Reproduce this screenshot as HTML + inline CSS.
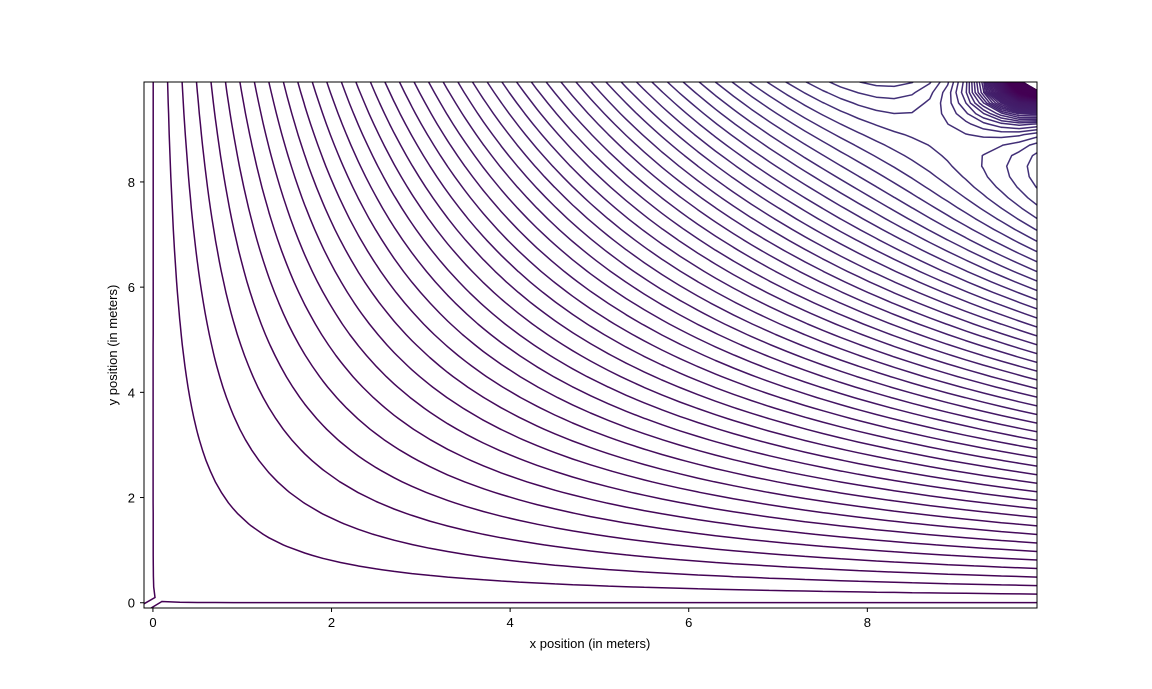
<!DOCTYPE html>
<html><head><meta charset="utf-8"><style>
html,body{margin:0;padding:0;background:#fff;}
svg text{font-family:"Liberation Sans",sans-serif;font-size:13px;fill:#000;}
</style></head><body>
<svg id="chart" width="1152" height="684" viewBox="0 0 1152 684" xmlns="http://www.w3.org/2000/svg">
<rect width="1152" height="684" fill="#fff"/>
<defs><clipPath id="clip"><rect x="144" y="82" width="893" height="526"/></clipPath></defs>
<g id="contours" clip-path="url(#clip)"></g>
<rect x="144" y="82" width="893" height="526" fill="none" stroke="#000" stroke-width="1"/>
<g id="ticks"></g>
<text x="590" y="648" text-anchor="middle">x position (in meters)</text>
<text transform="translate(117,345) rotate(-90)" text-anchor="middle">y position (in meters)</text>
</svg>
<script>
const xTicks = [0, 2, 4, 6, 8];
const yTicks = [0, 2, 4, 6, 8];
const gridStart = [-0.1];
const gridStep = [0.2];
const gridCount = [51];
const sinkCenter = [9.9, 9.92];
const sinkStrength = [34];
const sinkDecay = [2];
const levelStep = [1.6];
const levelIndexRange = [-150, 62];

const X0=144,X1=1037,Y0=608,Y1=82,DMIN=-0.1,DMAX=9.9;
function sx(v){return X0+(v-DMIN)/(DMAX-DMIN)*(X1-X0);}
function sy(v){return Y0-(v-DMIN)/(DMAX-DMIN)*(Y0-Y1);}

const NS='http://www.w3.org/2000/svg';
const tg=document.getElementById('ticks');
xTicks.forEach(t=>{
  const l=document.createElementNS(NS,'line');
  l.setAttribute('x1',sx(t));l.setAttribute('x2',sx(t));l.setAttribute('y1',608);l.setAttribute('y2',612);l.setAttribute('stroke','#000');
  
  
  tg.appendChild(l);
  const tx=document.createElementNS(NS,'text');
  tx.setAttribute('x',sx(t));tx.setAttribute('y',627);tx.setAttribute('text-anchor','middle');tx.textContent=t;
  
  
  tg.appendChild(tx);
});
yTicks.forEach(t=>{
  const l=document.createElementNS(NS,'line');
  l.setAttribute('x1',140);l.setAttribute('x2',144);l.setAttribute('y1',sy(t));l.setAttribute('y2',sy(t));l.setAttribute('stroke','#000');
  
  
  tg.appendChild(l);
  const tx=document.createElementNS(NS,'text');
  tx.setAttribute('x',135);tx.setAttribute('y',sy(t)+5);tx.setAttribute('text-anchor','end');tx.textContent=t;
  
  
  tg.appendChild(tx);
});

const N=gridCount[0];
const gx=[];for(let i=0;i<N;i++)gx.push(Math.round((gridStart[0]+i*gridStep[0])*1000)/1000);
const F=[];
for(let j=0;j<N;j++){const row=[];for(let i=0;i<N;i++){
  const x=gx[i],y=gx[j];const dx=x-sinkCenter[0],dy=y-sinkCenter[1];
  const r=Math.sqrt(dx*dx+dy*dy+0.0004);
  row.push(x*y-sinkStrength[0]*Math.exp(-r/sinkDecay[0])/r);}F.push(row);}

function col(L){
  let t=Math.max(0,Math.min(1,L/100));
  const a=[68,1,84],b=[65,68,135];
  return 'rgb('+a.map((v,k)=>Math.round(v+(b[k]-v)*t)).join(',')+')';
}
const cg=document.getElementById('contours');
for(let k=levelIndexRange[0];k<=levelIndexRange[1];k++){
  const L=k*levelStep[0];
  let d='';
  for(let j=0;j<N-1;j++)for(let i=0;i<N-1;i++){
    const v=[F[j][i],F[j][i+1],F[j+1][i+1],F[j+1][i]];
    const p=[[gx[i],gx[j]],[gx[i+1],gx[j]],[gx[i+1],gx[j+1]],[gx[i],gx[j+1]]];
    const pts=[];
    for(let e=0;e<4;e++){const a=v[e],b=v[(e+1)%4];
      if((a<L)!==(b<L)){const t=(L-a)/(b-a);const A=p[e],B=p[(e+1)%4];
        pts.push([A[0]+(B[0]-A[0])*t,A[1]+(B[1]-A[1])*t]);}}
    for(let q=0;q+1<pts.length;q+=2){
      d+='M'+sx(pts[q][0]).toFixed(1)+' '+sy(pts[q][1]).toFixed(1)+'L'+sx(pts[q+1][0]).toFixed(1)+' '+sy(pts[q+1][1]).toFixed(1);
    }
  }
  if(d){const pa=document.createElementNS(NS,'path');
    pa.setAttribute('d',d);pa.setAttribute('fill','none');pa.setAttribute('stroke',col(L));pa.setAttribute('stroke-width','1.5');pa.setAttribute('stroke-linecap','round');
    
    
    cg.appendChild(pa);}
}
</script>
</body></html>
